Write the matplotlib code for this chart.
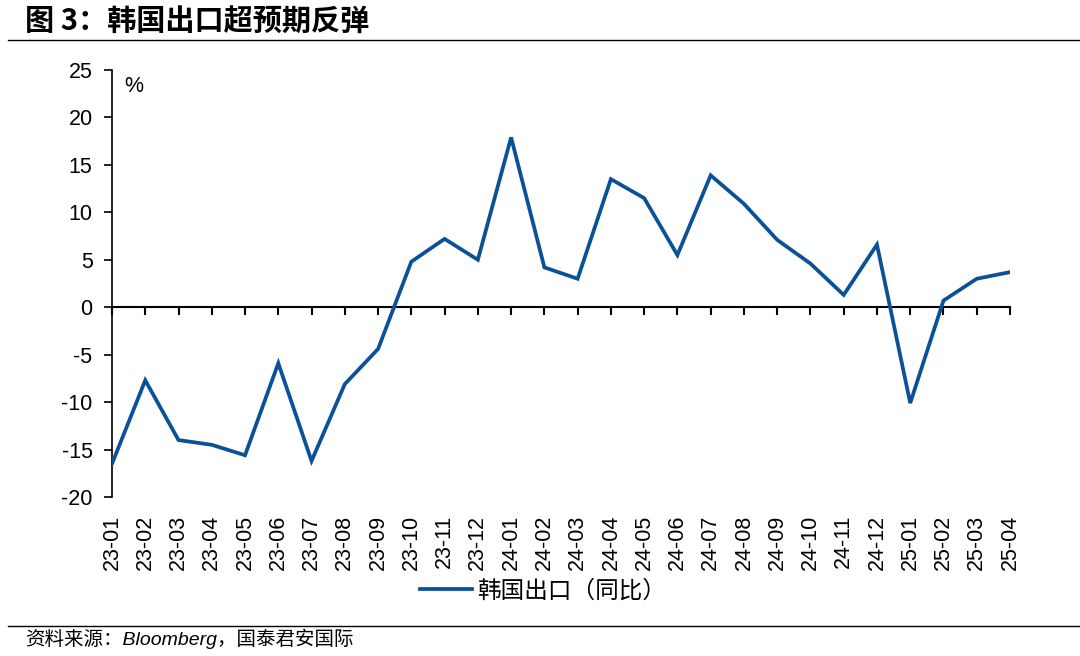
import matplotlib
matplotlib.use("Agg")
import matplotlib.pyplot as plt
from matplotlib.lines import Line2D

months = ["23-01", "23-02", "23-03", "23-04", "23-05", "23-06", "23-07", "23-08",
          "23-09", "23-10", "23-11", "23-12", "24-01", "24-02", "24-03", "24-04",
          "24-05", "24-06", "24-07", "24-08", "24-09", "24-10", "24-11", "24-12",
          "25-01", "25-02", "25-03", "25-04"]
export_yoy = [-16.5, -7.7, -14.0, -14.5, -15.6, -5.9, -16.2, -8.1,
              -4.4, 4.8, 7.2, 5.0, 17.9, 4.2, 3.0, 13.5,
              11.5, 5.5, 13.9, 10.9, 7.1, 4.6, 1.3, 6.6,
              -10.1, 0.7, 3.0, 3.7]
y_ticks = [-20, -15, -10, -5, 0, 5, 10, 15, 20, 25]

title = "图 3：韩国出口超预期反弹"
series_name = "韩国出口（同比）"
source = "资料来源：Bloomberg，国泰君安国际"

LAT = ["Liberation Sans", "DejaVu Sans"]
CJK = ["Noto Sans CJK SC", "DejaVu Sans"]
MIX = ["Liberation Sans", "Noto Sans CJK SC", "DejaVu Sans"]
BLUE = "#0B5198"

fig = plt.figure(figsize=(10.8, 6.56), dpi=100)
ax = fig.add_axes([112 / 1080, 1 - 497 / 656, (1010 - 112) / 1080, (497 - 70) / 656])

x = list(range(len(months)))
ax.plot(x, export_yoy, color=BLUE, lw=2.7, solid_joinstyle="miter", zorder=3)

ax.set_xlim(0, len(months) - 1)
ax.set_ylim(-20, 25)
ax.set_yticks(y_ticks)
ax.set_yticklabels([str(v) for v in y_ticks], family=LAT, fontsize=15.5)
ax.tick_params(axis="y", direction="out", length=6, width=1.2, pad=8, colors="black")

for s in ["top", "right"]:
    ax.spines[s].set_visible(False)
ax.spines["left"].set_linewidth(1.2)
ax.spines["bottom"].set_position(("data", 0))
ax.spines["bottom"].set_linewidth(1.5)
ax.set_xticks(x)
ax.tick_params(axis="x", direction="out", length=6, width=1.5, labelbottom=False)

sec = ax.secondary_xaxis("bottom")
sec.set_xticks(x)
sec.set_xticklabels(months, rotation=90, family=LAT, fontsize=15.5)
sec.tick_params(axis="x", length=0, pad=13)
sec.spines["bottom"].set_visible(False)

ax.text(0.014, 0.985, "%", transform=ax.transAxes, family=LAT, fontsize=15.5,
        ha="left", va="top")

# legend
handle = Line2D([0], [0], color=BLUE, lw=2.7)
fig.legend([handle], [series_name], loc="center", bbox_to_anchor=(543 / 1080, 1 - 591 / 656),
           frameon=False, prop={"family": CJK, "size": 17}, handlelength=2.2,
           handletextpad=0.2)

# title and rules
fig.text(25 / 1080, 1 - 21 / 656, title, family=CJK, fontsize=21, fontweight="bold",
         ha="left", va="center")
fig.add_artist(Line2D([8 / 1080, 1.0], [1 - 40 / 656, 1 - 40 / 656], color="black", lw=1.0))
fig.add_artist(Line2D([8 / 1080, 1.0], [1 - 626 / 656, 1 - 626 / 656], color="black", lw=1.0))
fig.text(25 / 1080, 1 - 639 / 656, source, family=MIX, fontsize=14, style="italic",
         ha="left", va="center")

fig.savefig("out.png", dpi=100, facecolor="white")
